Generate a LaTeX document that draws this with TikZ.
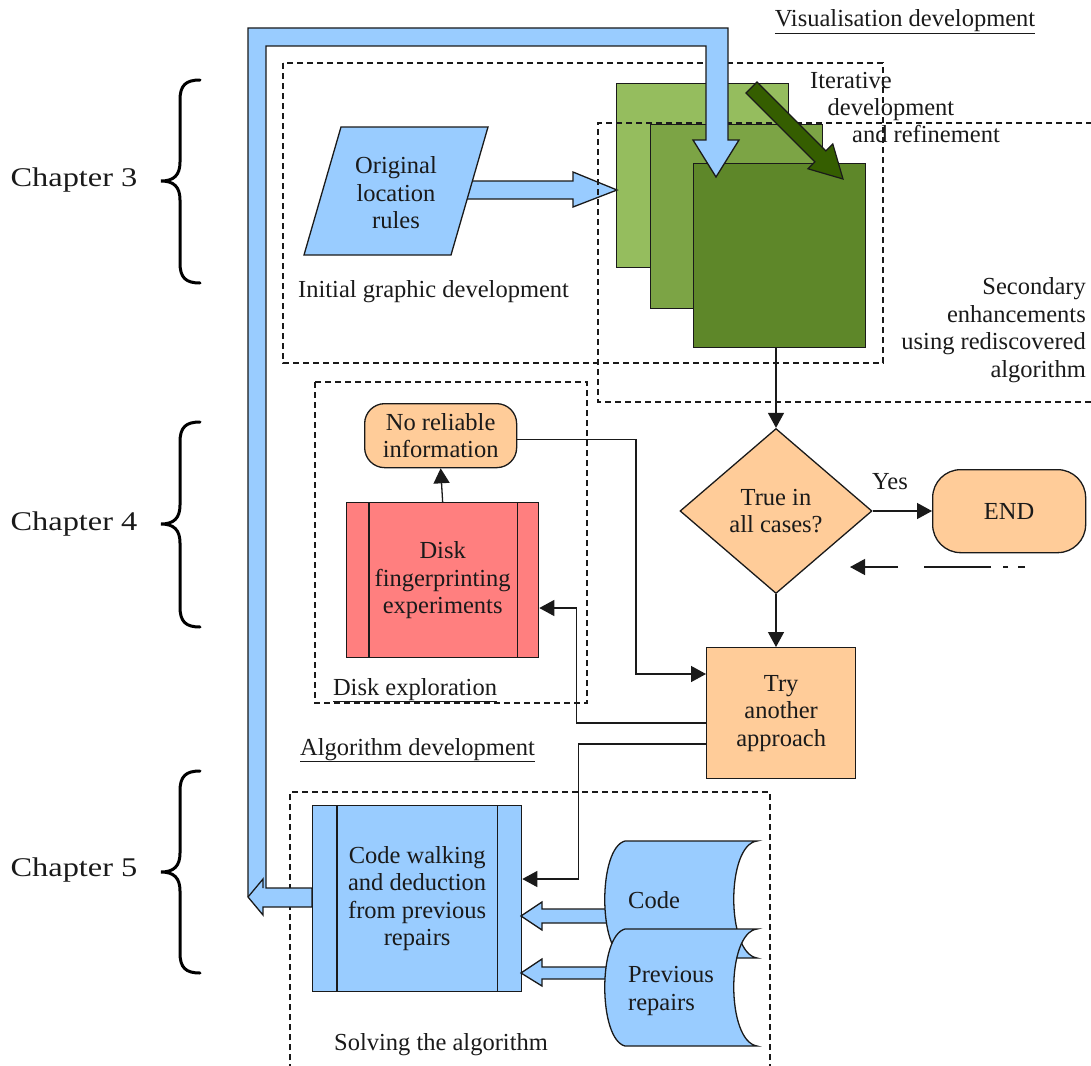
\documentclass[tikz,border=0pt]{standalone}
\usepackage{fontspec}
\setmainfont{Liberation Serif}
\usetikzlibrary{arrows.meta,calc,shapes.geometric}
\definecolor{bluef}{HTML}{99CCFF}
\definecolor{peach}{HTML}{FFCC99}
\definecolor{redf}{HTML}{FF7F7F}
\definecolor{gA}{HTML}{95BD5E}
\definecolor{gB}{HTML}{7CA445}
\definecolor{gC}{HTML}{5E8729}
\definecolor{gD}{HTML}{355E00}
\definecolor{ink}{HTML}{1A1A1A}
\begin{document}
\begin{tikzpicture}[x=1pt,y=-1pt,
  font=\fontsize{24.5}{27.5}\selectfont,
  every node/.style={text=ink},
  box/.style={draw=ink, line width=1.3pt, anchor=north west, inner sep=0pt, align=center},
  grp/.style={draw=ink, line width=1.2pt, dash pattern=on 6pt off 4pt},
  conn/.style={draw=ink, line width=1.3pt},
  arr/.style={conn, -{Triangle[length=15pt,width=16pt]}},
  blk/.style={draw=ink, line width=1.3pt, fill=bluef, line join=miter},
  lbl/.style={inner sep=0pt, align=center},
  brace/.style={draw=black, line width=3pt, line cap=round}]
\useasboundingbox (0,0) rectangle (1091,1065);
\fill[white] (0,0) rectangle (1091,1065);

% group frames
\draw[grp] (283,63) rectangle (883,363);
\draw[grp] (315,382) rectangle (587,703);
\draw[grp] (290,1070) -- (290,792) -- (770,792) -- (770,1070);

% green stack, first sheet
\node[box, fill=gA, minimum width=172pt, minimum height=184pt] (g1) at (616,83) {};

% input parallelogram and its arrow
\draw[blk] (460,181) -- (573,181) -- (573,172) -- (617,190) -- (573,207) -- (573,199) -- (460,199) -- cycle;
\draw[blk] (341,127) -- (488,127) -- (451,255) -- (304,255) -- cycle;
\node[lbl] (orig) at (396,193) {Original\\location\\rules};

% secondary frame
\draw[grp] (1092,123) -- (598,123) -- (598,402) -- (1092,402);

\node[box, fill=gB, minimum width=172pt, minimum height=184pt] (g2) at (650,124) {};
\node[box, fill=gC, minimum width=172pt, minimum height=184pt] (g3) at (693,163) {};

% big feedback arrow
\draw[blk] (312,888) -- (266,888) -- (266,46) -- (706,46) -- (706,140) -- (693,140) -- (716,177)
  -- (739,140) -- (728,140) -- (728,28) -- (248,28) -- (248,897) -- (263,915) -- (263,907)
  -- (312,907) -- cycle;
\draw[draw=ink, line width=1.3pt] (263,888) -- (263,879) -- (248,897);

% dark green iteration arrow
\draw[draw=ink, line width=1.2pt, fill=gD] (757,82) -- (825.9,150.9) -- (832.8,144) -- (843,179)
  -- (808,168.8) -- (814.9,161.9) -- (746,93) -- cycle;

% titles and labels
\node[inner sep=0pt, anchor=base] (vis) at (905,27) {\underline{Visualisation development}};
\node[inner sep=0pt, anchor=base] (it1) at (851,88) {Iterative};
\node[inner sep=0pt, anchor=base] (it2) at (891,115) {development};
\node[inner sep=0pt, anchor=base] (it3) at (926,142) {and refinement};
\node[inner sep=0pt, anchor=east, align=right] (sec) at (1086,330) {Secondary\\enhancements\\using rediscovered\\algorithm};
\node[inner sep=0pt, anchor=base west] (init) at (298,297) {Initial graphic development};
\node[inner sep=0pt, anchor=base] (dexp) at (415,695) {\underline{Disk exploration}};
\node[inner sep=0pt, anchor=base west] (alg) at (300,755) {\underline{Algorithm development}};
\node[inner sep=0pt, anchor=base] (solve) at (441,1050) {Solving the algorithm};

% flow nodes
\node[draw=ink, line width=1.3pt, diamond, fill=peach, minimum width=192pt, minimum height=165pt,
  inner sep=0pt, align=center] (dia) at (776,511) {True in\\all cases?};
\node[box, fill=peach, minimum width=149pt, minimum height=131pt] (try) at (706,647) {Try\\another\\approach};
\node[box, fill=peach, rounded corners=28pt, minimum width=153pt, minimum height=83pt] (end) at (932,469) {END};
\node[box, fill=peach, rounded corners=20pt, minimum width=152pt, minimum height=64pt] (norel) at (364,403) {No reliable\\information};
\node[box, fill=redf, minimum width=192pt, minimum height=155pt] (disk) at (346,502) {Disk\\fingerprinting\\experiments};
\draw[conn] ($(disk.north west)+(23,0)$) -- ($(disk.south west)+(23,0)$);
\draw[conn] ($(disk.north east)+(-22,0)$) -- ($(disk.south east)+(-22,0)$);
\node[box, fill=bluef, minimum width=209pt, minimum height=186pt] (cw) at (312,805) {Code walking\\and deduction\\from previous\\repairs};
\draw[conn] ($(cw.north west)+(25,0)$) -- ($(cw.south west)+(25,0)$);
\draw[conn] ($(cw.north east)+(-25,0)$) -- ($(cw.south east)+(-25,0)$);

% connectors
\draw[arr] (dia.north |- g3.south) -- (dia.north);
\draw[arr] (dia.south) -- (dia.south |- try.north);
\draw[arr] (dia.east) -- (dia.east -| end.west);
\node[inner sep=0pt] (yes) at (890,482) {Yes};
\coordinate (dashs) at (1025,567);
\coordinate (dashe) at (850,567);
\draw[draw=ink, line width=1.3pt, dash pattern=on 7pt off 10pt on 5pt off 12pt on 67pt off 26pt on 80pt,
  -{Triangle[length=15pt,width=16pt]}] (dashs) -- (dashe);
\draw[arr] (disk.north) -- (norel.south);
\draw[arr] ($(norel.east)+(0,4)$) -| ($(try.north west)+(-70,27)$) -- ($(try.north west)+(0,27)$);
\draw[arr] ($(try.north west)+(0,76)$) -| ($(disk.north east)+(37,106)$) -- ($(disk.north east)+(0,106)$);
\draw[arr] ($(try.north west)+(0,97)$) -| ($(cw.north east)+(56,74)$) -- ($(cw.north east)+(0,74)$);

% data stores and their arrows
\draw[blk] (615,909) -- (542,909) -- (542,902) -- (521,916) -- (542,930) -- (542,923) -- (615,923) -- cycle;
\draw[blk] (615,967) -- (542,967) -- (542,959) -- (521,973) -- (542,986) -- (542,979) -- (615,979) -- cycle;
\draw[blk] (625,841) -- (757,841) .. controls (726,845) and (726,953) .. (757,958) -- (625,958)
  .. controls (598,951) and (598,848) .. (625,841) -- cycle;
\draw[blk] (625,929) -- (757,929) .. controls (726,933) and (726,1041) .. (757,1046) -- (625,1046)
  .. controls (598,1039) and (598,936) .. (625,929) -- cycle;
\node[inner sep=0pt, anchor=base west] (code) at (628,908) {Code};
\node[inner sep=0pt, anchor=west, align=left] (prev) at (628,991) {Previous\\repairs};

% chapter braces
\draw[brace] (200,80) .. controls (186,80) and (180,85) .. (180,100) -- (180,162)
  .. controls (180,175) and (174,181) .. (161,181) .. controls (174,181) and (180,187) .. (180,200)
  -- (180,263) .. controls (180,278) and (186,283) .. (200,283);
\draw[brace] (200,422) .. controls (186,422) and (180,427) .. (180,442) -- (180,505)
  .. controls (180,518) and (174,524) .. (161,524) .. controls (174,524) and (180,530) .. (180,543)
  -- (180,607) .. controls (180,622) and (186,627) .. (200,627);
\draw[brace] (200,771) .. controls (186,771) and (180,776) .. (180,791) -- (180,853)
  .. controls (180,866) and (174,872) .. (161,872) .. controls (174,872) and (180,878) .. (180,891)
  -- (180,953) .. controls (180,968) and (186,973) .. (200,973);
\node[inner sep=0pt, anchor=base] (ch3) at (74,186) {\fontsize{27}{30}\selectfont\scalebox{1.2}[1]{Chapter 3}};
\node[inner sep=0pt, anchor=base] (ch4) at (74,530) {\fontsize{27}{30}\selectfont\scalebox{1.2}[1]{Chapter 4}};
\node[inner sep=0pt, anchor=base] (ch5) at (74,876) {\fontsize{27}{30}\selectfont\scalebox{1.2}[1]{Chapter 5}};
\end{tikzpicture}
\end{document}
